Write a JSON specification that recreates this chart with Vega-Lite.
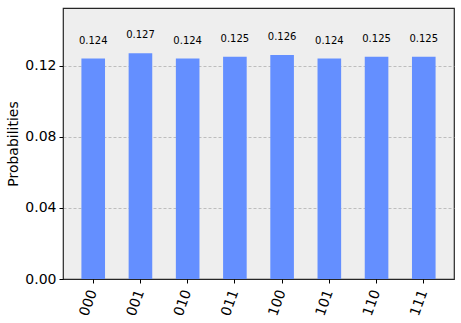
{
  "$schema": "https://vega.github.io/schema/vega-lite/v6.json",
  "autosize": {"type": "none"},
  "width": 391,
  "height": 271,
  "padding": {"left": 63, "top": 8, "right": 7, "bottom": 44},
  "background": "white",
  "config": {
    "font": "DejaVu Sans",
    "view": {"fill": "#eeeeee", "stroke": "#262626", "strokeWidth": 1.2}
  },
  "data": {
    "values": [
      {"state": "000", "p": 0.124},
      {"state": "001", "p": 0.127},
      {"state": "010", "p": 0.124},
      {"state": "011", "p": 0.125},
      {"state": "100", "p": 0.126},
      {"state": "101", "p": 0.124},
      {"state": "110", "p": 0.125},
      {"state": "111", "p": 0.125}
    ]
  },
  "encoding": {
    "x": {
      "field": "state", "type": "nominal", "sort": null,
      "scale": {"paddingInner": 0.5, "paddingOuter": 0.39},
      "axis": {
        "title": null, "labelAngle": -70, "labelAlign": "right", "labelBaseline": "middle",
        "labelFontSize": 14, "labelColor": "#000000", "labelPadding": 7,
        "tickColor": "#000000", "tickSize": 4, "domain": false, "grid": false
      }
    },
    "y": {
      "field": "p", "type": "quantitative",
      "scale": {"domain": [0, 0.1524], "nice": false},
      "axis": {
        "title": "Probabilities", "titleFontSize": 14, "titleFontWeight": "normal", "titleColor": "#000000",
        "titlePadding": 4,
        "values": [0, 0.04, 0.08, 0.12], "format": ".2f",
        "labelFontSize": 14, "labelColor": "#000000", "labelPadding": 3,
        "tickColor": "#000000", "tickSize": 4, "domain": false,
        "grid": true, "gridColor": "#b0b0b0", "gridDash": [3, 2], "gridWidth": 0.8,
        "gridOpacity": {"condition": {"test": "datum.value === 0", "value": 0}, "value": 1}
      }
    }
  },
  "layer": [
    {"mark": {"type": "bar", "color": "#648fff"}},
    {
      "mark": {"type": "text", "baseline": "bottom", "dy": -13, "fontSize": 10, "color": "#000000"},
      "encoding": {"text": {"field": "p", "type": "quantitative", "format": ".3f"}}
    }
  ]
}
